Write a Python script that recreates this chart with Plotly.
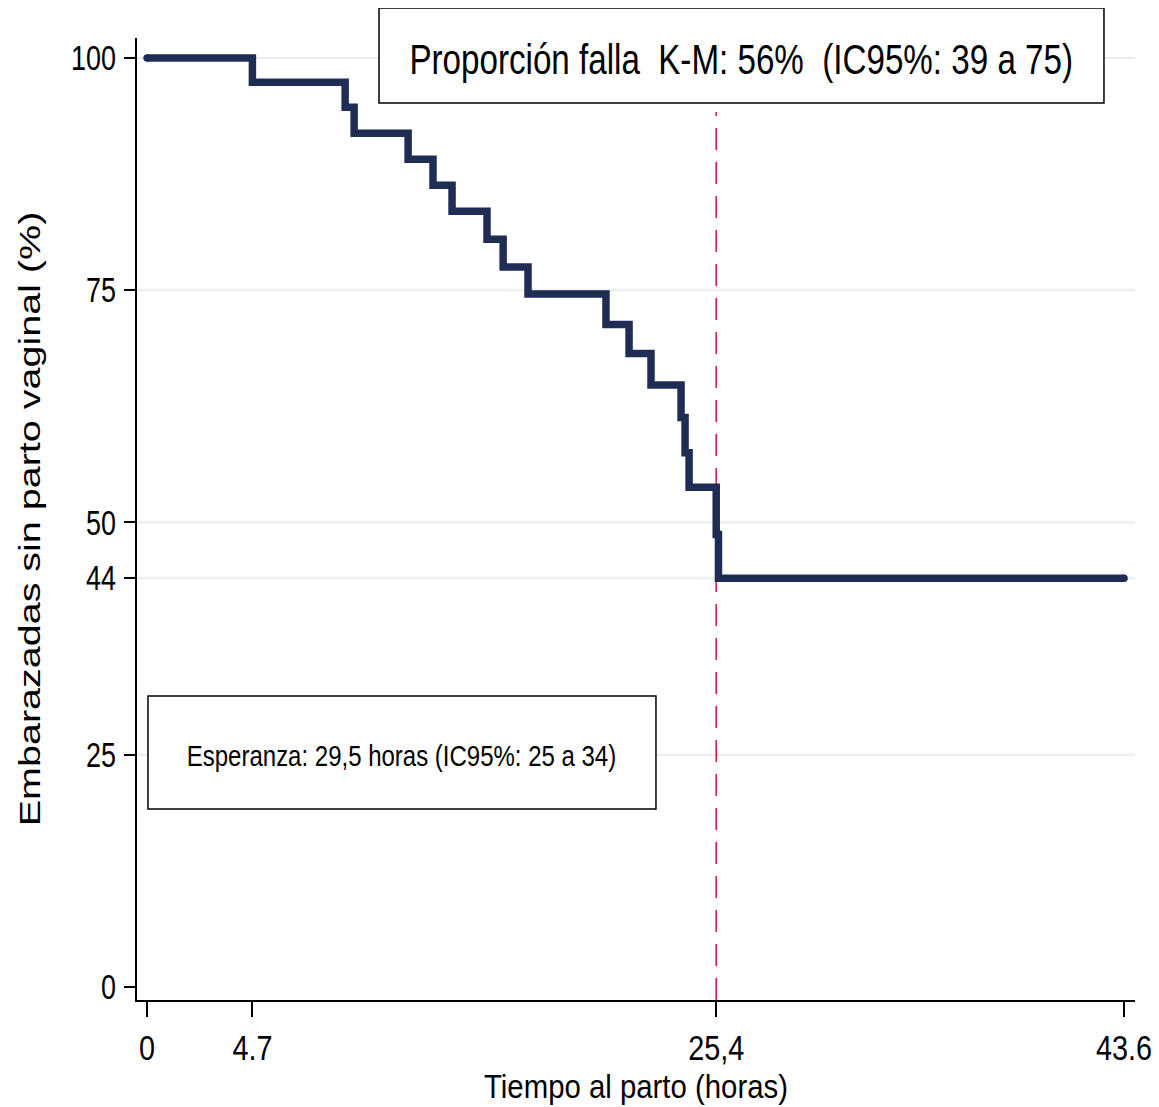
import plotly.graph_objects as go

# Kaplan-Meier estimate
tiempo = [0, 4.7, 8.84, 9.24, 11.65, 12.76, 13.61, 15.17, 15.89, 17.0,
          20.48, 21.51, 22.49, 23.83, 24.01, 24.19, 25.4, 25.5, 43.6]
supervivencia = [100, 97.4, 94.7, 91.9, 89.1, 86.3, 83.5, 80.5, 77.5, 74.6,
                 71.3, 68.2, 64.8, 61.3, 57.5, 53.8, 48.7, 44.0, 44.0]

x_ticks = [0, 4.7, 25.4, 43.6]
x_ticktext = ["0", "4.7", "25,4", "43.6"]
y_ticks = [0, 25, 44, 50, 75, 100]
y_ticktext = ["0", "25", "44", "50", "75", "100"]
mediana = 25.4

titulo_caja = "Proporción falla\u00a0\u00a0K-M: 56%\u00a0\u00a0(IC95%: 39 a 75)"
esperanza = "Esperanza: 29,5 horas (IC95%: 25 a 34)"

FONT = "Liberation Sans, Arial, sans-serif"
NAVY = "#1f2d55"

fig = go.Figure()

fig.add_trace(go.Scatter(
    x=tiempo, y=supervivencia, mode="lines", line_shape="hv",
    line=dict(color=NAVY, width=7.5), showlegend=False, hoverinfo="x+y"))
# round ends of the curve
fig.add_trace(go.Scatter(
    x=[tiempo[0], tiempo[-1]], y=[supervivencia[0], supervivencia[-1]],
    mode="markers", marker=dict(color=NAVY, size=7.5), showlegend=False,
    hoverinfo="skip"))

shapes = []
# grid lines (none at 0)
for v in y_ticks:
    if v > 0:
        shapes.append(dict(type="line", xref="paper", yref="y", x0=0, x1=1,
                           y0=v, y1=v, layer="below",
                           line=dict(color="#e6eef0", width=2)))
# median dashed line
shapes.append(dict(type="line", xref="x", yref="paper", x0=mediana, x1=mediana,
                   y0=0, y1=0.923, layer="below",
                   line=dict(color="#d0203f", width=1.6, dash="22px,12px")))
# annotation boxes
shapes.append(dict(type="rect", xref="paper", yref="paper",
                   x0=0.2425, x1=0.9689, y0=0.9324, y1=1.0312, layer="above",
                   fillcolor="white", line=dict(color="black", width=1.5)))
shapes.append(dict(type="rect", xref="paper", yref="paper",
                   x0=0.011, x1=0.52, y0=0.1985, y1=0.316, layer="above",
                   fillcolor="white", line=dict(color="black", width=1.5)))

annotations = [
    dict(text=titulo_caja, xref="paper", yref="paper", x=0.6057, y=0.978,
         xanchor="center", yanchor="middle", showarrow=False,
         font=dict(family=FONT, size=42, color="black")),
    dict(text=esperanza, xref="paper", yref="paper", x=0.2655, y=0.254,
         xanchor="center", yanchor="middle", showarrow=False,
         font=dict(family=FONT, size=30, color="black")),
]

fig.update_layout(
    width=1151, height=1099,
    margin=dict(l=129, r=24, t=30, b=107),
    paper_bgcolor="white", plot_bgcolor="white",
    shapes=shapes, annotations=annotations,
    xaxis=dict(range=[-0.45, 44.09], tickvals=x_ticks, ticktext=x_ticktext,
               automargin=False, ticklabeloverflow="allow",
               showgrid=False, zeroline=False, showline=True,
               linecolor="black", linewidth=2, ticks="outside", ticklen=15,
               tickwidth=1.5, tickcolor="black", ticklabelstandoff=0,
               tickfont=dict(family=FONT, size=36, color="black"),
               title=dict(text="Tiempo al parto (horas)", standoff=2,
                          font=dict(family=FONT, size=33, color="black"))),
    yaxis=dict(range=[-1.4, 102.15], tickvals=y_ticks, ticktext=y_ticktext,
               automargin=False,
               showgrid=False, zeroline=False, showline=True,
               linecolor="black", linewidth=2, ticks="outside", ticklen=11,
               tickwidth=1.5, tickcolor="black", ticklabelstandoff=1,
               tickfont=dict(family=FONT, size=35, color="black"),
               title=dict(text="Embarazadas sin parto vaginal (%)", standoff=5,
                          font=dict(family=FONT, size=39.5, color="black"))),
)

# The reference uses horizontally condensed lettering; condense the SVG text.
post = r"""
var gd = document.getElementById('{plot_id}');
var byClass = [['.ytick text', 0.77, 'x'], ['.xtick text', 0.80, 'x'],
               ['.xtitle', 0.89, 'x'], ['.ytitle', 0.74, 'y']];
var byText = {};
byText[%s] = 0.79;
byText[%s] = 0.80;
function sq(t, s, dir) {
  if (t.getAttribute('data-sq')) return;
  t.setAttribute('data-sq', '1');
  var prev = t.getAttribute('transform') || '';
  var tr;
  if (dir === 'x') {
    var bb = t.getBBox();
    var a = t.getAttribute('text-anchor') || 'start';
    var cx = a === 'end' ? bb.x + bb.width : (a === 'middle' ? bb.x + bb.width / 2 : bb.x);
    tr = ' translate(' + cx + ',0) scale(' + s + ',1) translate(' + (-cx) + ',0)';
  } else {
    var bb2 = t.getBBox();
    var cy = bb2.y + bb2.height / 2;
    tr = ' translate(0,' + cy + ') scale(1,' + s + ') translate(0,' + (-cy) + ')';
  }
  t.setAttribute('transform', prev + tr);
}
byClass.forEach(function (r) {
  gd.querySelectorAll(r[0]).forEach(function (t) { sq(t, r[1], r[2]); });
});
gd.querySelectorAll('.annotation-text').forEach(function (t) {
  var s = byText[t.textContent];
  if (s) sq(t, s, 'x');
});
""" % (repr(titulo_caja).replace("'", '"'), repr(esperanza).replace("'", '"'))

fig.write_html("out.html", post_script=post)
